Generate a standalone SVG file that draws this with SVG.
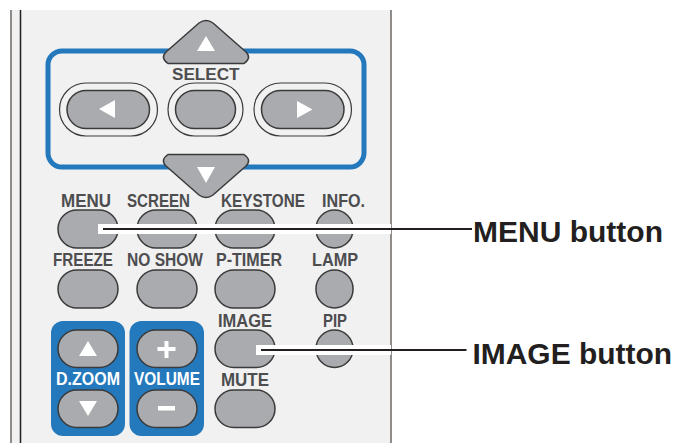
<svg xmlns="http://www.w3.org/2000/svg" width="688" height="443" viewBox="0 0 688 443">
<style>
.b{fill:#a9abae;stroke:#3a3a3a;stroke-width:1.5}
.o{fill:#f1f1f1;stroke:#3a3a3a;stroke-width:1.2}
.g{fill:#fff}
.t{font-family:"Liberation Sans",Arial,sans-serif;font-weight:700;font-size:18px;fill:#4d4d4f}
.w{fill:#fff}
.l{font-family:"Liberation Sans",Arial,sans-serif;font-weight:700;font-size:30px;fill:#231f20}
.h{stroke:#fff;stroke-width:10;fill:none}
.k{stroke:#231f20;stroke-width:2;fill:none}
</style>
<rect width="688" height="443" fill="#fff"/>
<g id="panel">
<rect x="11" y="10" width="380" height="433" fill="#f1f1f1"/>
<path d="M11 10V443" stroke="#6d6764" stroke-width="1.5" fill="none"/>
<path d="M20.500 10V443" stroke="#231f20" stroke-width="1.5" fill="none"/>
<path d="M391 10V443" stroke="#6d6764" stroke-width="1.5" fill="none"/>
</g>
<g id="select-frame"><rect x="48" y="51" width="316" height="116" rx="14" fill="none" stroke="#2479bd" stroke-width="5"/></g>
<g id="select-up"><path class="b" d="M199 23Q206 18 213 23L246 52Q252 58 244 63.500H168Q160 58 166 52Z"/><path class="g" d="M206 36L215 51H197Z"/></g>
<text class="t" x="172" y="80" textLength="67.500" lengthAdjust="spacingAndGlyphs" style="font-size:16.500px">SELECT</text>
<g id="select-left"><rect class="o" x="59.500" y="83" width="98" height="53" rx="26.500"/><rect class="b" x="67" y="90.500" width="82.500" height="38" rx="19"/><path class="g" d="M99 100V118L115 109Z" transform="rotate(180 107 109)"/></g>
<g id="select-center"><rect class="o" x="168" y="83" width="75" height="53" rx="26.500"/><rect class="b" x="175.500" y="90.500" width="60" height="38" rx="19"/></g>
<g id="select-right"><rect class="o" x="254" y="83" width="97.500" height="53" rx="26.500"/><rect class="b" x="261.500" y="90.500" width="82.500" height="38" rx="19"/><path class="g" d="M297 101V118L312.500 109.500Z"/></g>
<g id="select-down"><path class="b" d="M168 154.500H244Q252 160 246 166L213 195Q206 200 199 195L166 166Q160 160 168 154.500Z"/><path class="g" d="M197 167H215L206 183Z"/></g>
<g id="menu"><text class="t" x="61" y="206.500" textLength="50" lengthAdjust="spacingAndGlyphs">MENU</text><rect class="b" x="58" y="210" width="60" height="38" rx="19"/></g>
<g id="screen"><text class="t" x="127" y="206.500" textLength="63" lengthAdjust="spacingAndGlyphs">SCREEN</text><rect class="b" x="137" y="210" width="60" height="38" rx="19"/></g>
<g id="keystone"><text class="t" x="221" y="206.500" textLength="84" lengthAdjust="spacingAndGlyphs">KEYSTONE</text><rect class="b" x="215" y="210" width="60" height="38" rx="19"/></g>
<g id="info"><text class="t" x="322" y="206.500" textLength="43" lengthAdjust="spacingAndGlyphs">INFO.</text><rect class="b" x="316" y="210" width="37" height="38" rx="18.500"/></g>
<g id="freeze"><text class="t" x="53" y="266" textLength="60" lengthAdjust="spacingAndGlyphs">FREEZE</text><rect class="b" x="58" y="270" width="60" height="38" rx="19"/></g>
<g id="no-show"><text class="t" x="127" y="266" textLength="76" lengthAdjust="spacingAndGlyphs">NO SHOW</text><rect class="b" x="137" y="270" width="60" height="38" rx="19"/></g>
<g id="p-timer"><text class="t" x="216" y="266" textLength="66" lengthAdjust="spacingAndGlyphs">P-TIMER</text><rect class="b" x="215" y="270" width="60" height="38" rx="19"/></g>
<g id="lamp"><text class="t" x="312" y="266" textLength="46" lengthAdjust="spacingAndGlyphs">LAMP</text><rect class="b" x="316" y="270" width="37" height="38" rx="18.500"/></g>
<g id="dzoom"><rect x="51" y="321" width="74" height="115" rx="12" fill="#2479bd"/><rect class="b" x="58" y="330" width="60" height="37.500" rx="18.700"/><path class="w" d="M88 341L97 356H79Z"/><text class="t" x="56" y="385" textLength="64" lengthAdjust="spacingAndGlyphs" style="fill:#fff">D.ZOOM</text><rect class="b" x="58" y="390" width="60" height="37.500" rx="18.700"/><path class="w" d="M79 401H97L88 416Z"/></g>
<g id="volume"><rect x="129.500" y="321" width="74.500" height="115" rx="12" fill="#2479bd"/><rect class="b" x="137" y="330" width="60" height="37.500" rx="18.700"/><path class="w" d="M164.500 341H168.500V347H175.500V351H168.500V358H164.500V351H157.500V347H164.500Z"/><text class="t" x="134" y="385" textLength="66" lengthAdjust="spacingAndGlyphs" style="fill:#fff">VOLUME</text><rect class="b" x="137" y="390" width="60" height="37.500" rx="18.700"/><rect class="w" x="158" y="406" width="17" height="4.500"/></g>
<g id="image"><text class="t" x="218" y="326.500" textLength="54" lengthAdjust="spacingAndGlyphs">IMAGE</text><rect class="b" x="215" y="330" width="60" height="37.500" rx="18.700"/></g>
<g id="pip"><text class="t" x="323" y="326.500" textLength="24" lengthAdjust="spacingAndGlyphs">PIP</text><rect class="b" x="316" y="330" width="37" height="37.500" rx="18.500"/></g>
<g id="mute"><text class="t" x="221" y="385.500" textLength="48" lengthAdjust="spacingAndGlyphs">MUTE</text><rect class="b" x="215" y="390" width="60" height="37.500" rx="18.700"/></g>
<g id="connectors">
<path class="h" d="M98 229H391"/><path class="k" d="M103 229H472"/>
<path class="h" d="M256 350H391"/><path class="k" d="M261 350H466.500"/>
</g>
<g id="labels">
<text class="l" x="473" y="241.500" textLength="190" lengthAdjust="spacingAndGlyphs">MENU button</text>
<text class="l" x="472.500" y="363.500" textLength="199.500" lengthAdjust="spacingAndGlyphs">IMAGE button</text>
</g>
</svg>
